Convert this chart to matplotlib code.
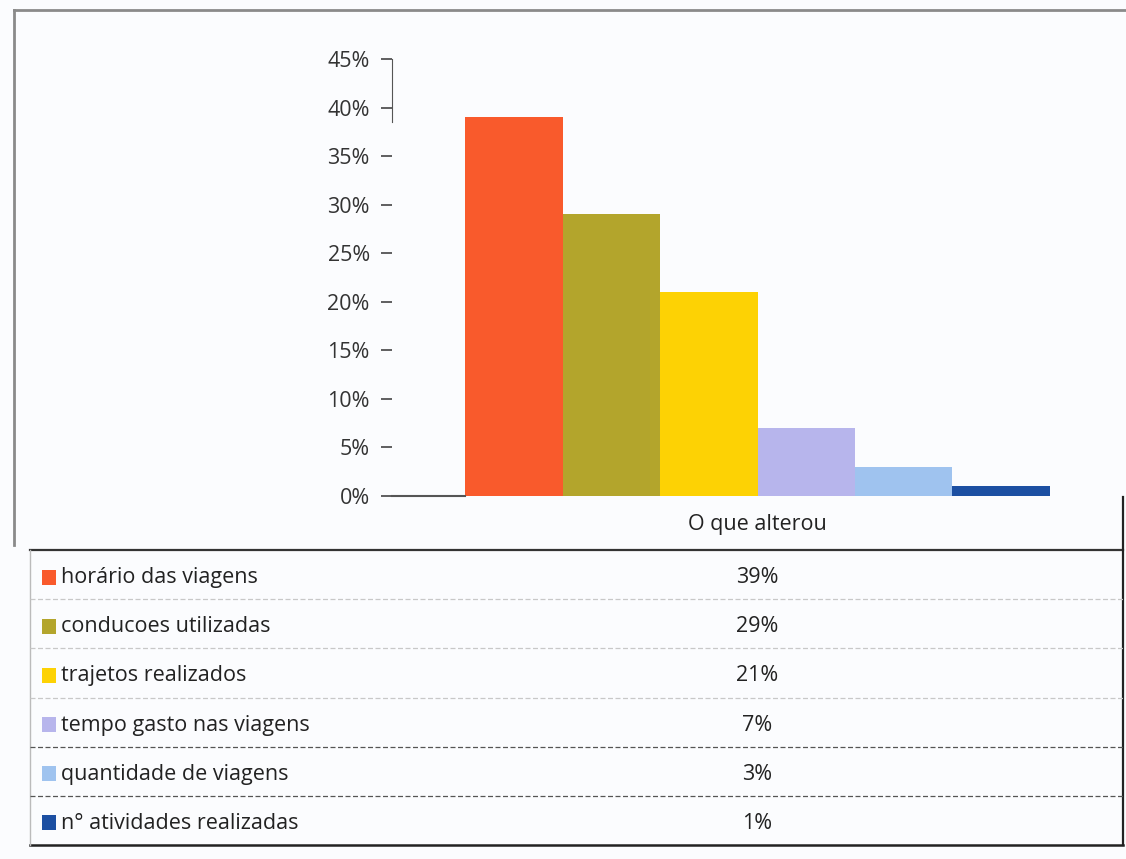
import matplotlib.pyplot as plt
from matplotlib.ticker import FuncFormatter

plt.rcParams['font.family'] = ['Open Sans', 'DejaVu Sans']

# data
categorias = ['horário das viagens', 'conducoes utilizadas', 'trajetos realizados',
              'tempo gasto nas viagens', 'quantidade de viagens', 'n° atividades realizadas']
valores = [39, 29, 21, 7, 3, 1]
rotulos = ['39%', '29%', '21%', '7%', '3%', '1%']
cores = ['#f95a2c', '#b3a52c', '#fdd204', '#b7b5ec', '#9fc3ef', '#1c4fa2']
y_ticks = [0, 5, 10, 15, 20, 25, 30, 35, 40, 45]
grupo = 'O que alterou'

W, H = 1126, 859
fig = plt.figure(figsize=(W / 100, H / 100), dpi=100, facecolor='#fbfcfe')

# overlay in pixel coords for frame and data table
bg = fig.add_axes([0, 0, 1, 1])
bg.set_xlim(0, W)
bg.set_ylim(H, 0)
bg.axis('off')
bg.patch.set_alpha(0)

# bar axes
ax = fig.add_axes([392 / W, (H - 496) / H, (1123 - 392) / W, (496 - 59) / H])
ax.patch.set_alpha(0)
xs = list(range(len(valores)))
ax.bar(xs, valores, width=1.0, color=cores, align='center')
ax.set_xlim(-1.25, 6.25)
ax.set_ylim(0, 45)
ax.set_yticks(y_ticks)
ax.yaxis.set_major_formatter(FuncFormatter(lambda v, p: f'{v:.0f}%'))
ax.tick_params(axis='y', length=8, width=1.2, color='#444444', pad=8,
               labelsize=15.5, labelcolor='#333333')
ax.set_xticks([2.5])
ax.set_xticklabels([grupo])
ax.tick_params(axis='x', length=0, pad=13, labelsize=15.5, labelcolor='#222222')
for s in ['top', 'right']:
    ax.spines[s].set_visible(False)
ax.spines['left'].set_bounds(38.5, 45)
ax.spines['left'].set_color('#555555')
ax.spines['bottom'].set_bounds(-1.25, -0.5)
ax.spines['bottom'].set_color('#555555')
ax.spines['bottom'].set_linewidth(1.5)

# outer frame (scan border)
bg.plot([14, W], [10, 10], color='#8a8a8a', lw=2)
bg.plot([14, 14], [10, 545], color='#8a8a8a', lw=2)

# table
bg.plot([30, 1123], [550, 550], color='#333333', lw=1.6)
bg.plot([30, 1123], [845, 845], color='#222222', lw=1.8)
bg.plot([1123, 1123], [497, 845], color='#222222', lw=1.6)
bg.plot([30, 30], [550, 845], color='#bbbbbb', lw=1)
row_h = (845 - 550) / len(categorias)
for i, (cat, rot, c) in enumerate(zip(categorias, rotulos, cores)):
    yc = 550 + row_h * (i + 0.5) + 3
    bg.add_patch(plt.Rectangle((42, yc - 8), 14, 15, color=c, lw=0))
    bg.text(61, yc, cat, fontsize=15.5, va='center', ha='left', color='#222222')
    bg.text(757, yc, rot, fontsize=15.5, va='center', ha='center', color='#222222')
    if i < len(categorias) - 1:
        yl = 550 + row_h * (i + 1)
        cl = '#555555' if i >= 3 else '#c8c8c8'
        bg.plot([30, 1123], [yl, yl], color=cl, lw=0.9, ls=(0, (4, 2)))

fig.savefig('out.png', dpi=100, facecolor=fig.get_facecolor())
